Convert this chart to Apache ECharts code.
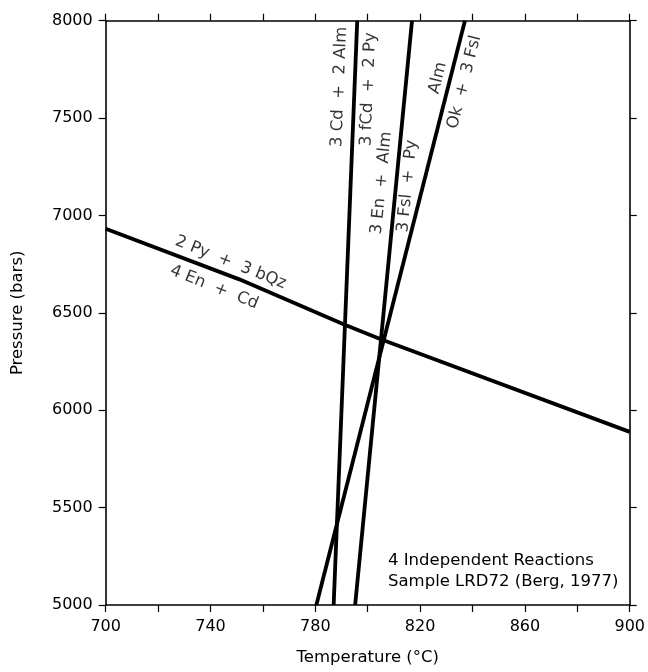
<!DOCTYPE html>
<html>
<head>
<meta charset="utf-8">
<script src="https://cdn.jsdelivr.net/npm/echarts@6/dist/echarts.min.js"></script>
<style>
  html, body { margin: 0; padding: 0; background: #fff; }
  #chart { width: 648px; height: 672px; }
</style>
</head>
<body>
<div id="chart"></div>
<script>
// Equilibrium curves in T (°C) – P (bars) space
const reactionCdAlm = [[787.0, 5000], [796.0, 8000]];          // 3 Cd + 2 Alm = 3 fCd + 2 Py
const reactionEnAlm = [[795.2, 5000], [816.9, 8000]];          // 3 En + Alm = 3 Fsl + Py
const reactionAlmOk = [[780.4, 5000], [837.1, 8000]];          // Alm = Ok + 3 Fsl
const reactionPyQz  = [[700, 6932], [751, 6672], [791, 6440], [805, 6364], [900, 5889]]; // 2 Py + 3 bQz = 4 En + Cd

// Reaction labels: text, anchor [T, P], curve it follows
const reactionLabels = [
  { text: '2 Py  +  3 bQz', at: [747.7, 6758], curve: reactionPyQz, seg: [0, 2] },
  { text: '4 En  +  Cd',    at: [741.4, 6631], curve: reactionPyQz, seg: [0, 2] },
  { text: '3 Cd  +  2 Alm', at: [789.2, 7660], curve: reactionCdAlm, seg: [0, 1] },
  { text: '3 fCd  +  2 Py', at: [800.3, 7648], curve: reactionCdAlm, seg: [0, 1] },
  { text: '3 En  +  Alm',   at: [805.3, 7167], curve: reactionEnAlm, seg: [0, 1] },
  { text: '3 Fsl  +  Py',   at: [815.2, 7151], curve: reactionEnAlm, seg: [0, 1] },
  { text: 'Alm',            at: [826.8, 7706], curve: reactionAlmOk, seg: [0, 1] },
  { text: 'Ok  +  3 Fsl',   at: [836.9, 7685], curve: reactionAlmOk, seg: [0, 1] }
];

const xTicks = { min: 700, max: 900, step: 20, labelStep: 40 };
const yTicks = { min: 5000, max: 8000, step: 500 };
const noteLines = ['4 Independent Reactions', 'Sample LRD72 (Berg, 1977)'];

const FONT = '"DejaVu Sans", sans-serif';
const INK = '#000';

const chart = echarts.init(document.getElementById('chart'), null, { renderer: 'canvas' });

function curveSeries(data) {
  return {
    type: 'line',
    data: data,
    showSymbol: false,
    symbol: 'none',
    smooth: false,
    clip: true,
    silent: true,
    lineStyle: { color: INK, width: 3.8, cap: 'butt' },
    z: 3
  };
}

const baseAxisLine = { show: true, lineStyle: { color: INK, width: 1.6 } };
const baseTick = { show: true, inside: false, length: 7, lineStyle: { color: INK, width: 1.2 } };

const curves = [
  curveSeries(reactionCdAlm),
  curveSeries(reactionEnAlm),
  curveSeries(reactionAlmOk),
  curveSeries(reactionPyQz)
];

const option = {
  animation: false,
  backgroundColor: '#fff',
  grid: { left: 105.7, right: 17.3, top: 20.7, bottom: 67, containLabel: false },
  xAxis: [
    {
      type: 'value', position: 'bottom',
      min: xTicks.min, max: xTicks.max, interval: xTicks.step,
      axisLine: baseAxisLine, axisTick: baseTick,
      splitLine: { show: false },
      axisLabel: {
        margin: 14, color: INK, fontFamily: FONT, fontSize: 16,
        formatter: v => ((v - xTicks.min) % xTicks.labelStep === 0 ? String(v) : '')
      },
      name: 'Temperature (°C)', nameLocation: 'middle', nameGap: 44,
      nameTextStyle: { color: INK, fontFamily: FONT, fontSize: 16.5 }
    },
    {
      type: 'value', position: 'top',
      min: xTicks.min, max: xTicks.max, interval: xTicks.step,
      axisLine: baseAxisLine, axisTick: baseTick,
      splitLine: { show: false }, axisLabel: { show: false }
    }
  ],
  yAxis: [
    {
      type: 'value', position: 'left',
      min: yTicks.min, max: yTicks.max, interval: yTicks.step,
      axisLine: baseAxisLine, axisTick: baseTick,
      splitLine: { show: false },
      axisLabel: { margin: 13, color: INK, fontFamily: FONT, fontSize: 16, formatter: v => String(v) },
      name: 'Pressure (bars)', nameLocation: 'middle', nameGap: 79, nameRotate: 90,
      nameTextStyle: { color: INK, fontFamily: FONT, fontSize: 16.5 }
    },
    {
      type: 'value', position: 'right',
      min: yTicks.min, max: yTicks.max, interval: yTicks.step,
      axisLine: baseAxisLine, axisTick: baseTick,
      splitLine: { show: false }, axisLabel: { show: false }
    }
  ],
  series: curves,
  graphic: [
    {
      type: 'text', left: 388, top: 550, silent: true,
      style: { text: noteLines.join('\n'), fill: INK, font: '16.5px ' + FONT, lineHeight: 21 }
    }
  ]
};

chart.setOption(option);

// Rotate each reaction label to the on-screen direction of its curve
function labelAngle(lbl) {
  const a = chart.convertToPixel({ gridIndex: 0 }, lbl.curve[lbl.seg[0]]);
  const b = chart.convertToPixel({ gridIndex: 0 }, lbl.curve[lbl.seg[1]]);
  return Math.atan2(-(b[1] - a[1]), b[0] - a[0]) * 180 / Math.PI;
}

const labelSeries = reactionLabels.map(lbl => ({
  type: 'scatter',
  data: [lbl.at],
  symbolSize: 0,
  silent: true,
  z: 4,
  label: {
    show: true,
    position: 'inside',
    formatter: lbl.text,
    rotate: labelAngle(lbl),
    color: INK,
    fontFamily: FONT,
    fontStyle: 'normal',
    fontSize: 16.5,
    align: 'center',
    verticalAlign: 'middle'
  }
}));

chart.setOption({ series: curves.concat(labelSeries) });
</script>
</body>
</html>
